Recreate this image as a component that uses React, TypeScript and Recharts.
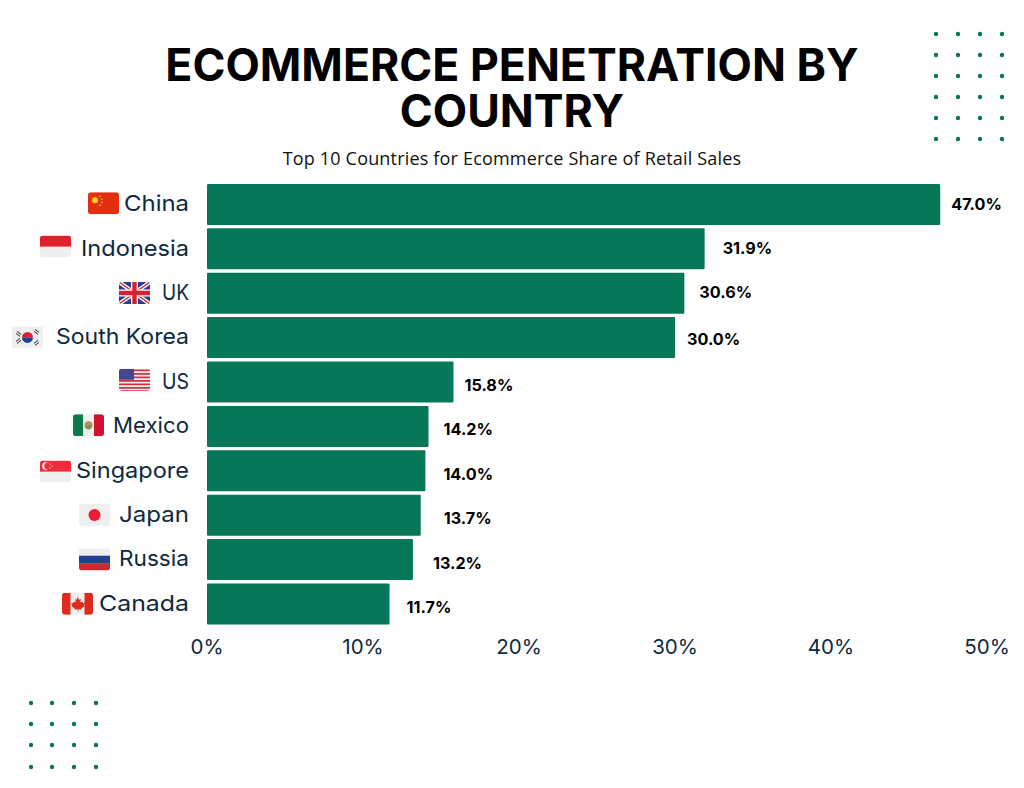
import { BarChart, Bar, XAxis, YAxis, LabelList } from 'recharts'

const countries = ['China', 'Indonesia', 'UK', 'South Korea', 'US', 'Mexico', 'Singapore', 'Japan', 'Russia', 'Canada']
const shares = [47.0, 31.9, 30.6, 30.0, 15.8, 14.2, 14.0, 13.7, 13.2, 11.7]
const xTicks = [0, 10, 20, 30, 40, 50]

// the labels in the picture are hand placed, so they don't sit at a fixed distance from the bars
const labelDx = [11, 18, 15, 12, 11, 15, 18, 23, 20, 17]
const labelDy = [0, -1, -1, 1, 3, 3, 3, 3, 3, 3]
const flagLeft = [88, 40, 119, 12, 119, 73, 40, 79, 79, 62]
const flagDy = [-1, -2, 0, 0, -2, -1, 1, 0, 0, 0]
// the reference font is wider than anything installed, so stretch each name to its measured width
const nameWidth = [65, 108, 27, 133, 27, 76, 113, 70, 70, 90]

const dotsRightX = [936, 958, 980, 1002]
const dotsRightY = [34, 55, 76, 97, 118, 139]
const dotsLeftX = [31, 52, 74, 96]
const dotsLeftY = [703, 724, 745, 767]

const GREEN = '#077857'
const NAVY = '#0e2a40'
const LABEL_RIGHT = 189

const data = countries.map((country, i) => ({ country, share: shares[i] }))

function Flag({ name }: { name: string }) {
  const id = 'clip-' + name.replace(' ', '')
  let inner = null
  if (name === 'China') {
    inner = (
      <>
        <rect width={31} height={22} fill="#e0300f" />
        <circle cx={7} cy={8} r={3} fill="#fcd116" />
        <circle cx={12} cy={4} r={0.8} fill="#fcd116" />
        <circle cx={14} cy={7} r={0.8} fill="#fcd116" />
        <circle cx={14} cy={10} r={0.8} fill="#fcd116" />
        <circle cx={12} cy={13} r={0.8} fill="#fcd116" />
      </>
    )
  } else if (name === 'Indonesia') {
    inner = (
      <>
        <rect width={31} height={22} fill="#efefef" />
        <rect width={31} height={11} fill="#e01f2d" />
      </>
    )
  } else if (name === 'UK') {
    inner = (
      <>
        <rect width={31} height={22} fill="#24408e" />
        <path d="M0 0L31 22M31 0L0 22" stroke="#fff" strokeWidth={4} />
        <path d="M0 0L31 22M31 0L0 22" stroke="#d8202f" strokeWidth={1.4} />
        <path d="M15.5 0V22M0 11H31" stroke="#fff" strokeWidth={7} />
        <path d="M15.5 0V22M0 11H31" stroke="#d8202f" strokeWidth={4.4} />
      </>
    )
  } else if (name === 'South Korea') {
    inner = (
      <>
        <rect width={31} height={22} fill="#efefef" />
        <path d="M10 11a5.5 5.5 0 0 1 11 0z" fill="#d8202f" />
        <path d="M10 11a5.5 5.5 0 0 0 11 0z" fill="#1f3f8f" />
        <path d="M5 5l4 3M4 7l4 3M23 3l4 3M22 5l4 3M5 17l4-3M4 15l4-3M23 19l4-3M22 17l4-3" stroke="#444" strokeWidth={1.1} />
      </>
    )
  } else if (name === 'US') {
    inner = (
      <>
        <rect width={31} height={22} fill="#efefef" />
        <path d="M0 1.5H31M0 5H31M0 8.5H31M0 12H31M0 15.5H31M0 19H31M0 22H31" stroke="#d2323f" strokeWidth={1.7} />
        <rect width={15} height={11} fill="#46468f" />
      </>
    )
  } else if (name === 'Mexico') {
    inner = (
      <>
        <rect width={31} height={22} fill="#efefef" />
        <rect width={10} height={22} fill="#0b7a4c" />
        <rect x={21} width={10} height={22} fill="#ce1230" />
        <circle cx={15.5} cy={11} r={4} fill="#b98d55" />
        <circle cx={15.5} cy={13} r={2.4} fill="#6a9a5a" />
      </>
    )
  } else if (name === 'Singapore') {
    inner = (
      <>
        <rect width={31} height={22} fill="#efefef" />
        <rect width={31} height={11} fill="#ef2b3c" />
        <circle cx={6} cy={5.5} r={3.8} fill="#fff" />
        <circle cx={7.8} cy={5.5} r={3.6} fill="#ef2b3c" />
        <circle cx={10} cy={3.5} r={0.7} fill="#fff" />
        <circle cx={12} cy={5.5} r={0.7} fill="#fff" />
        <circle cx={10} cy={7.5} r={0.7} fill="#fff" />
      </>
    )
  } else if (name === 'Japan') {
    inner = (
      <>
        <rect width={31} height={22} fill="#efefef" />
        <circle cx={15.5} cy={11} r={6} fill="#ef1c33" />
      </>
    )
  } else if (name === 'Russia') {
    inner = (
      <>
        <rect width={31} height={22} fill="#efefef" />
        <rect y={7.3} width={31} height={7.4} fill="#253f95" />
        <rect y={14.7} width={31} height={7.3} fill="#d5262f" />
      </>
    )
  } else if (name === 'Canada') {
    inner = (
      <>
        <rect width={31} height={22} fill="#efefef" />
        <rect width={8.5} height={22} fill="#dd2c1e" />
        <rect x={22.5} width={8.5} height={22} fill="#dd2c1e" />
        <path d="M15.5 4l1.6 3 1.8-.8-.7 3.6 2.3-1 .4 1.6 2-.2-1 2.4.8.6-3.4 2.4.3 1.2-3.2-.4V18.500h-.8V16.400l-3.200.4.300-1.200-3.400-2.400.800-.600-1-2.400 2 .200.400-1.600 2.300 1-.700-3.600 1.800.800z" fill="#dd2c1e" />
      </>
    )
  }
  return (
    <g>
      <clipPath id={id}>
        <rect width={31} height={22} rx={3} />
      </clipPath>
      <g clipPath={`url(#${id})`}>{inner}</g>
    </g>
  )
}

function CountryTick({ y, payload, index }: any) {
  return (
    <g>
      <g transform={`translate(${flagLeft[index]},${y - 11 + flagDy[index]})`}>
        <Flag name={payload.value} />
      </g>
      <text
        x={LABEL_RIGHT}
        y={y}
        dy={7}
        textAnchor="end"
        fontSize={22}
        fill={NAVY}
        fontFamily="Inter"
        textLength={nameWidth[index]}
        lengthAdjust="spacingAndGlyphs"
      >
        {payload.value}
      </text>
    </g>
  )
}

function ShareLabel({ x, y, width, height, value, index }: any) {
  return (
    <text
      x={x + width + labelDx[index]}
      y={y + height / 2 + labelDy[index]}
      dy={6}
      fontSize={16.2}
      fontWeight={700}
      fontFamily="Inter"
      fill="#000"
    >
      {value.toFixed(1)}%
    </text>
  )
}

function Dots({ xs, ys }: { xs: number[]; ys: number[] }) {
  return (
    <>
      {ys.map((y) => xs.map((x) => <circle key={x + '-' + y} cx={x} cy={y} r={2.2} fill={GREEN} />))}
    </>
  )
}

const titleStyle = {
  position: 'absolute',
  left: 0,
  width: 1024,
  textAlign: 'center',
  fontFamily: 'Inter',
  fontWeight: 700,
  fontSize: 44.6,
  lineHeight: '44px',
  color: '#000',
} as const

export default function App() {
  return (
    <div style={{ position: 'absolute', left: 0, top: 0, width: 1024, height: 788, background: '#fff', overflow: 'hidden' }}>
      <svg width={1024} height={788} style={{ position: 'absolute', left: 0, top: 0 }}>
        <Dots xs={dotsRightX} ys={dotsRightY} />
        <Dots xs={dotsLeftX} ys={dotsLeftY} />
      </svg>
      <div style={{ ...titleStyle, top: 43 }}>ECOMMERCE PENETRATION BY</div>
      <div style={{ ...titleStyle, top: 89 }}>COUNTRY</div>
      <div
        style={{
          position: 'absolute',
          left: 0,
          top: 147,
          width: 1024,
          textAlign: 'center',
          fontFamily: 'Open Sans',
          fontSize: 18,
          letterSpacing: 0.18,
          lineHeight: '22px',
          color: '#111',
        }}
      >
        Top 10 Countries for Ecommerce Share of Retail Sales
      </div>
      <div style={{ position: 'absolute', left: 0, top: 0 }}>
        <BarChart
          width={1024}
          height={788}
          layout="vertical"
          data={data}
          margin={{ top: 182, right: 37, bottom: 122, left: 0 }}
          barCategoryGap={1.9}
        >
          <XAxis
            type="number"
            domain={[0, 50]}
            ticks={xTicks}
            tickFormatter={(v: number) => v + '%'}
            axisLine={false}
            tickLine={false}
            tickMargin={7}
            height={40}
            tick={{ fontSize: 20.5, fill: NAVY, fontFamily: 'Inter' }}
          />
          <YAxis
            type="category"
            dataKey="country"
            width={207}
            axisLine={false}
            tickLine={false}
            interval={0}
            tick={CountryTick}
          />
          <Bar dataKey="share" fill={GREEN} radius={1} isAnimationActive={false}>
            <LabelList dataKey="share" content={ShareLabel} />
          </Bar>
        </BarChart>
      </div>
    </div>
  )
}
